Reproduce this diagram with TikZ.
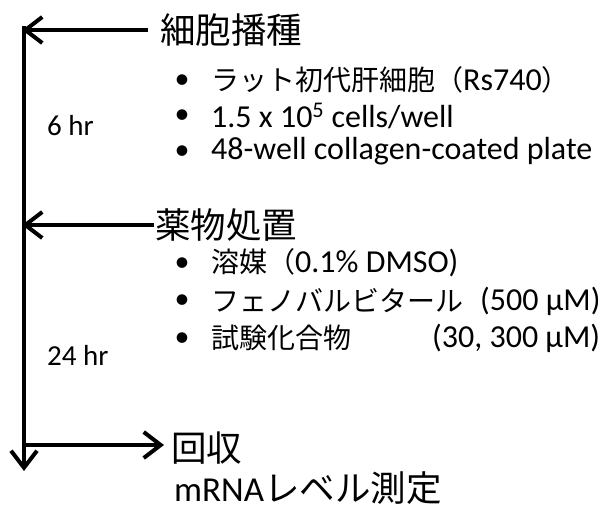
\documentclass[tikz,border=0pt]{standalone}
\usepackage{fontspec}
\setmainfont{Carlito}
\newfontfamily\jpf{Noto Sans CJK JP}
\newcommand\J[1]{{\jpf\fontsize{28}{32}\selectfont #1}}
\usetikzlibrary{arrows.meta}
\tikzset{
  conn/.style={line width=4pt,-{Straight Barb[length=17pt,width=26pt,line width=4pt]}},
  head/.style={anchor=west,inner sep=0pt,font=\jpf\fontsize{35.5}{40}\selectfont},
  item/.style={anchor=west,inner sep=0pt,font=\fontsize{32}{36}\selectfont},
  dur/.style={anchor=west,inner sep=0pt,font=\fontsize{29}{34}\selectfont},
  bul/.style={anchor=center,inner sep=0pt,font=\fontsize{30}{34}\selectfont}
}
\begin{document}
\begin{tikzpicture}[x=1pt,y=-1pt]
\useasboundingbox (0,0) rectangle (601,509);
% headings
\node[head] (h1) at (160,30) {細胞播種};
\node[head] (h2) at (155,225) {薬物処置};
\node[head] (h3) at (171,448) {回収};
\node[head] (h4) at (174,488) {{\rmfamily\fontsize{35}{40}\selectfont mRNA}レベル測定};
% durations
\node[dur] (d1) at (47,126) {6 hr};
\node[dur] (d2) at (47,355) {24 hr};
% bullets
\foreach \y/\n in {82/b1,117/b2,153/b3,265/b4,302/b5,340/b6}
  \node[bul] (\n) at (182,\y) {•};
% items
\node[item] (t1) at (211,80) {\J{ラット初代肝細胞（}Rs740\J{）}};
\node[item] (t2) at (211,116) {1.5 x 10\textsuperscript{5} cells/well};
\node[item] (t3) at (211,151) {48-well collagen-coated plate};
\node[item] (t4) at (211,263) {\J{溶媒（}0.1\% DMSO)};
\node[item] (t5) at (211,301) {\J{フェノバルビタール}};
\node[item] (t5b) at (480,301) {(500 µM)};
\node[item] (t6) at (211,338) {\J{試験化合物}};
\node[item] (t6b) at (432,338) {(30, 300 µM)};
% connectors
\coordinate (top) at (24,26);
\coordinate (bot) at (24,471);
\coordinate (m1) at (22,30);
\coordinate (m2) at (22,225);
\coordinate (m3) at (24,445);
\coordinate (e3) at (164,445);
\coordinate (s1) at (148,30);
\coordinate (s2) at (154,225);
\draw[conn] (top) -- (bot);
\draw[conn] (s1) -- (m1);
\draw[conn] (s2) -- (m2);
\draw[conn] (m3) -- (e3);
\end{tikzpicture}
\end{document}
